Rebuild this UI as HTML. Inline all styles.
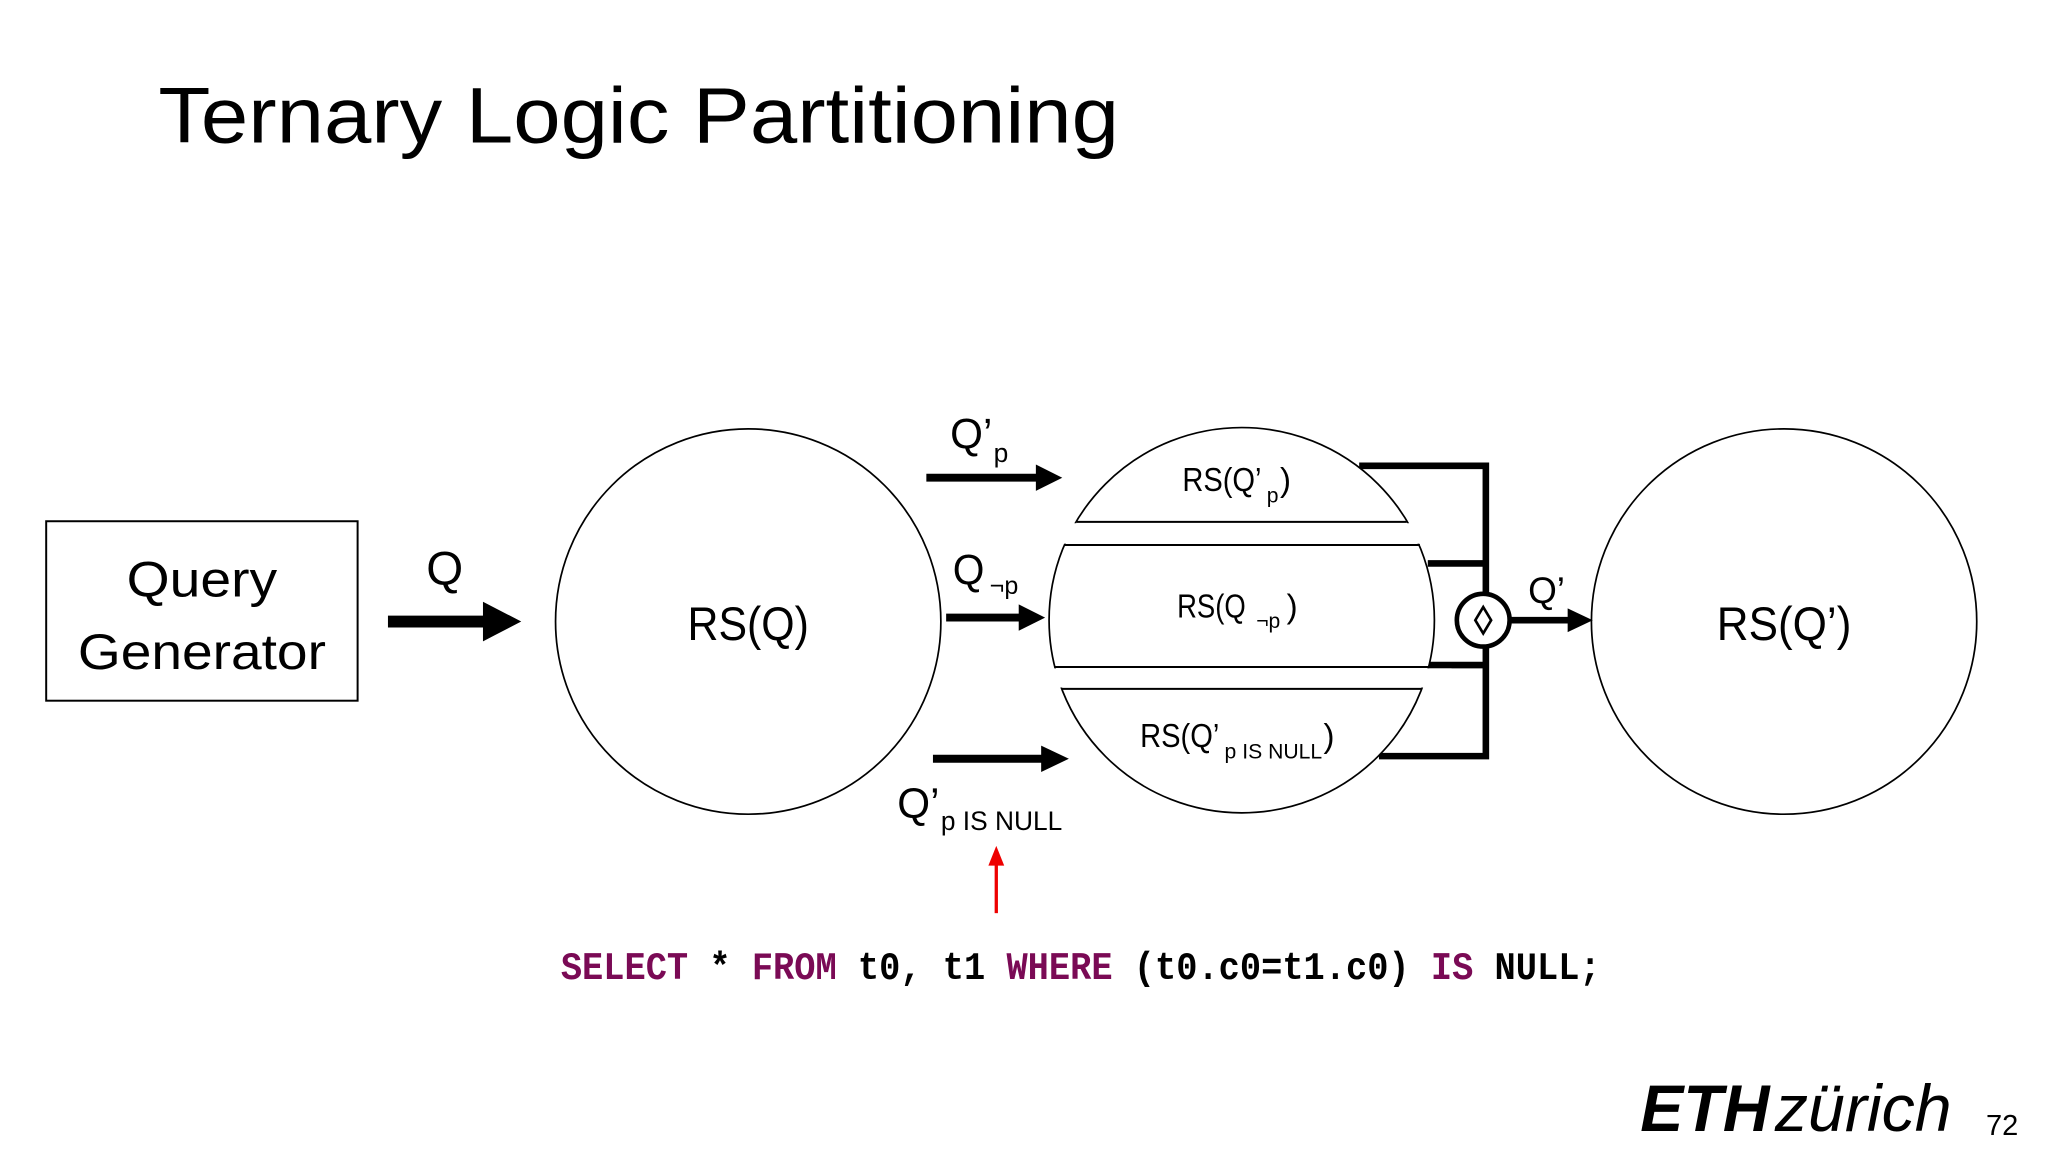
<!DOCTYPE html>
<html><head><meta charset="utf-8"><style>
html,body{margin:0;padding:0;background:#fff;}
svg{display:block;}
text{font-family:"Liberation Sans",sans-serif;fill:#000;}
.m{font-family:"Liberation Mono",monospace;font-weight:bold;}
</style></head><body>
<svg width="2048" height="1152" viewBox="0 0 1552 873" xmlns="http://www.w3.org/2000/svg">
<rect width="1552" height="873" fill="#fff"/>
<text x="120" y="108" font-size="60" textLength="728" lengthAdjust="spacingAndGlyphs" fill="#111">Ternary Logic Partitioning</text>

<rect x="35" y="395" width="236" height="136" fill="none" stroke="#000" stroke-width="1.5"/>
<text x="153" y="452" font-size="38" text-anchor="middle" textLength="114" lengthAdjust="spacingAndGlyphs">Query</text>
<text x="153" y="507" font-size="38" text-anchor="middle" textLength="188" lengthAdjust="spacingAndGlyphs">Generator</text>

<line x1="294" y1="471" x2="370" y2="471" stroke="#000" stroke-width="9"/>
<polygon points="366,456 395,471 366,486" fill="#000"/>
<text x="337" y="443" font-size="36" text-anchor="middle">Q</text>

<circle cx="567" cy="471" r="146" fill="none" stroke="#000" stroke-width="1.3"/>
<text x="567" y="485" font-size="36" text-anchor="middle" textLength="92" lengthAdjust="spacingAndGlyphs">RS(Q)</text>

<line x1="702" y1="362" x2="788" y2="362" stroke="#000" stroke-width="6"/>
<polygon points="785,352 805,362 785,372" fill="#000"/>
<text x="720" y="340" font-size="32" textLength="32" lengthAdjust="spacingAndGlyphs">Q’</text><text x="753" y="350" font-size="20">p</text>

<line x1="717" y1="468" x2="775" y2="468" stroke="#000" stroke-width="6"/>
<polygon points="772,458 792,468 772,478" fill="#000"/>
<text x="722" y="443" font-size="32" textLength="24" lengthAdjust="spacingAndGlyphs">Q</text><text x="750" y="450" font-size="19">¬p</text>

<line x1="707" y1="575" x2="792" y2="575" stroke="#000" stroke-width="6"/>
<polygon points="789,565 810,575 789,585" fill="#000"/>
<text x="680" y="620" font-size="32" textLength="32" lengthAdjust="spacingAndGlyphs">Q’</text><text x="713" y="629" font-size="20" textLength="92" lengthAdjust="spacingAndGlyphs">p IS NULL</text>

<line x1="755" y1="692" x2="755" y2="650" stroke="#e00" stroke-width="2.5"/>
<polygon points="749,656 755,641 761,656" fill="#e00"/>

<g stroke="#000" stroke-width="5" fill="none">
<polyline points="1030,353 1126,353 1126,573 1045,573"/>
<line x1="1082" y1="427" x2="1126" y2="427"/>
<line x1="1082" y1="504" x2="1126" y2="504"/>
</g>

<circle cx="941" cy="470" r="146" fill="#fff" stroke="#000" stroke-width="1.3"/>
<rect x="780" y="396.5" width="320" height="15.5" fill="#fff"/>
<rect x="780" y="506.5" width="320" height="14.5" fill="#fff"/>
<g stroke="#000" stroke-width="1.5">
<line x1="816" y1="395.5" x2="1066" y2="395.5"/>
<line x1="807" y1="413" x2="1076" y2="413"/>
<line x1="799" y1="505.5" x2="1084" y2="505.5"/>
<line x1="805" y1="522" x2="1077" y2="522"/>
</g>
<text x="896" y="372" font-size="25" textLength="60" lengthAdjust="spacingAndGlyphs">RS(Q’</text><text x="960" y="381" font-size="16">p</text><text x="970" y="372" font-size="25">)</text>
<text x="892" y="468" font-size="25" textLength="52" lengthAdjust="spacingAndGlyphs">RS(Q</text><text x="952" y="476" font-size="16">¬p</text><text x="975" y="468" font-size="25">)</text>
<text x="864" y="566" font-size="25" textLength="60" lengthAdjust="spacingAndGlyphs">RS(Q’</text><text x="928" y="575" font-size="16" textLength="74" lengthAdjust="spacingAndGlyphs">p IS NULL</text><text x="1003" y="566" font-size="25">)</text>

<ellipse cx="1124" cy="470" rx="20" ry="20" fill="#fff" stroke="#000" stroke-width="3.5"/>
<polygon points="1124,460 1130,470 1124,480 1118,470" fill="none" stroke="#000" stroke-width="2"/>
<line x1="1144" y1="470" x2="1192" y2="470" stroke="#000" stroke-width="5"/>
<polygon points="1188,461 1207,470 1188,479" fill="#000"/>
<text x="1158" y="457" font-size="28">Q’</text>

<circle cx="1352" cy="471" r="146" fill="none" stroke="#000" stroke-width="1.3"/>
<text x="1352" y="485" font-size="36" text-anchor="middle" textLength="102" lengthAdjust="spacingAndGlyphs">RS(Q’)</text>

<text class="m" x="425" y="742" font-size="29.5" textLength="788" lengthAdjust="spacingAndGlyphs"><tspan fill="#7a0a55">SELECT</tspan> * <tspan fill="#7a0a55">FROM</tspan> t0, t1 <tspan fill="#7a0a55">WHERE</tspan> (t0.c0=t1.c0) <tspan fill="#7a0a55">IS</tspan> NULL;</text>

<text x="1243" y="857" font-size="50" font-weight="bold" font-style="italic" fill="#222" textLength="98" lengthAdjust="spacingAndGlyphs">ETH</text>
<text x="1345" y="857" font-size="50" font-style="italic" fill="#222" textLength="134" lengthAdjust="spacingAndGlyphs">zürich</text>
<text x="1505" y="860" font-size="22" fill="#888">72</text>
</svg>
</body></html>
